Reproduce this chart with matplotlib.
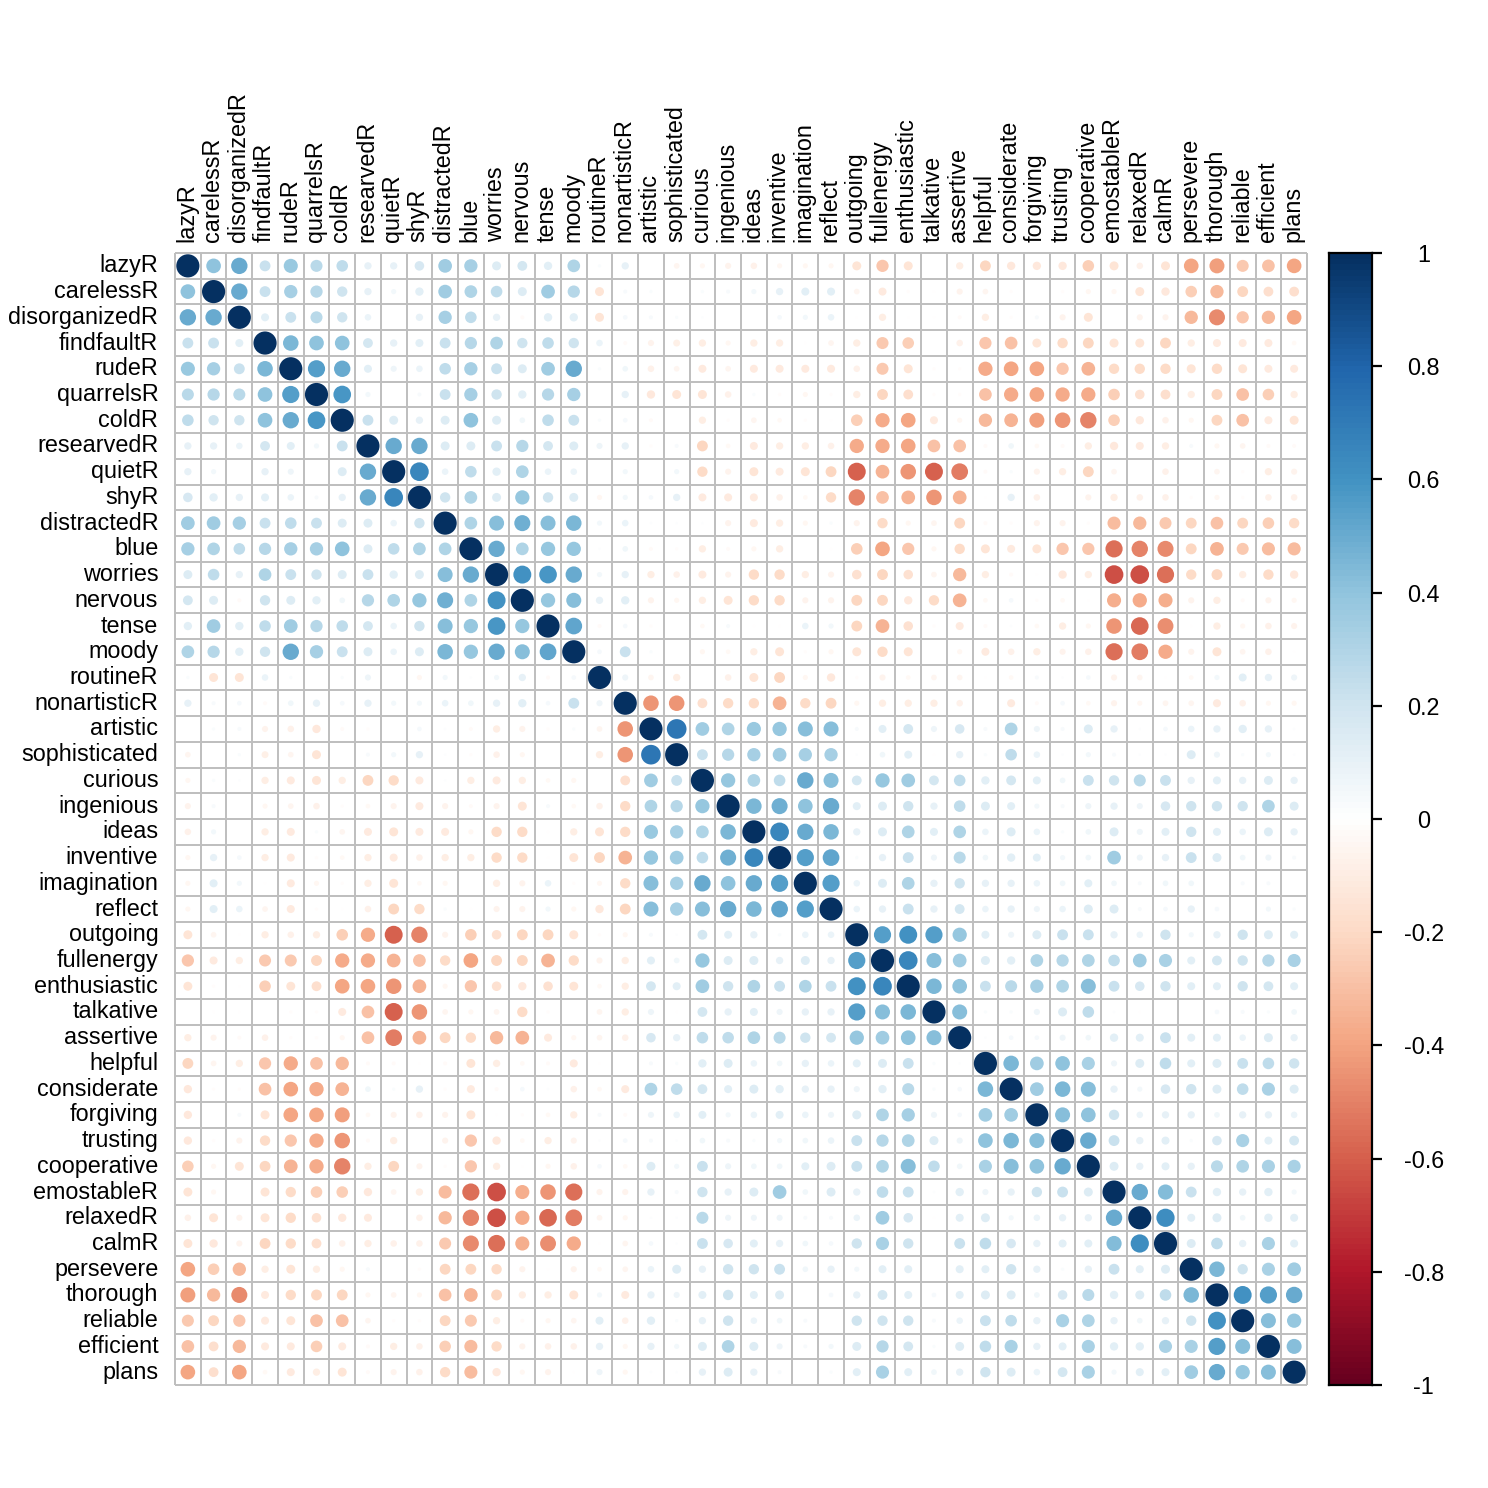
import numpy as np
import matplotlib
matplotlib.use("Agg")
import matplotlib.pyplot as plt
from matplotlib.colors import LinearSegmentedColormap, Normalize
from matplotlib.patches import Circle
from matplotlib.collections import PatchCollection

plt.rcParams['font.family'] = ['Liberation Sans', 'DejaVu Sans']

variables = ["lazyR", "carelessR", "disorganizedR", "findfaultR", "rudeR", "quarrelsR",
             "coldR", "researvedR", "quietR", "shyR", "distractedR", "blue", "worries",
             "nervous", "tense", "moody", "routineR", "nonartisticR", "artistic",
             "sophisticated", "curious", "ingenious", "ideas", "inventive", "imagination",
             "reflect", "outgoing", "fullenergy", "enthusiastic", "talkative", "assertive",
             "helpful", "considerate", "forgiving", "trusting", "cooperative", "emostableR",
             "relaxedR", "calmR", "persevere", "thorough", "reliable", "efficient", "plans"]

# lower triangle of the correlation matrix (row i holds correlations with columns 1..i-1)
corr_lower = [
    [],
    [0.40],
    [0.50, 0.50],
    [0.22, 0.22, 0.12],
    [0.37, 0.33, 0.22, 0.45],
    [0.27, 0.28, 0.27, 0.40, 0.55],
    [0.25, 0.20, 0.20, 0.40, 0.50, 0.58],
    [0.10, 0.10, 0.08, 0.18, 0.12, 0.05, 0.22],
    [0.10, 0.05, 0.00, 0.10, 0.07, 0.00, 0.15, 0.50],
    [0.17, 0.13, 0.10, 0.12, 0.08, 0.03, 0.10, 0.50, 0.65],
    [0.35, 0.35, 0.33, 0.22, 0.25, 0.22, 0.15, 0.15, 0.08, 0.20],
    [0.33, 0.30, 0.25, 0.28, 0.33, 0.33, 0.40, 0.15, 0.25, 0.30, 0.30],
    [0.15, 0.25, 0.10, 0.30, 0.22, 0.20, 0.15, 0.22, 0.13, 0.15, 0.42, 0.50],
    [0.18, 0.15, -0.03, 0.20, 0.15, 0.13, 0.06, 0.28, 0.30, 0.38, 0.48, 0.30, 0.60],
    [0.13, 0.35, 0.13, 0.25, 0.35, 0.28, 0.25, 0.18, 0.08, 0.20, 0.42, 0.38, 0.58, 0.38],
    [0.30, 0.28, 0.13, 0.20, 0.50, 0.33, 0.22, 0.15, 0.08, 0.15, 0.45, 0.38, 0.50, 0.42, 0.52],
    [0.02, -0.15, -0.15, 0.08, 0.02, 0.00, 0.02, 0.07, 0.00, -0.05, 0.05, 0.01, 0.05, 0.10, -0.03, 0.04],
    [0.10, 0.03, 0.04, -0.03, 0.06, 0.10, 0.04, 0.10, 0.05, 0.05, 0.08, 0.06, 0.10, 0.13, 0.04, 0.22, 0.07],
    [0.00, 0.02, 0.03, -0.07, -0.08, -0.13, -0.03, -0.02, 0.00, 0.04, 0.01, -0.03, -0.10, -0.07, -0.02, 0.02,
     -0.06, -0.45],
    [-0.06, 0.00, 0.02, -0.09, -0.06, -0.15, 0.00, 0.03, 0.05, 0.10, 0.01, -0.02, -0.08, -0.05, 0.00, 0.00,
     -0.10, -0.45, 0.72],
    [-0.05, 0.02, 0.01, -0.10, -0.12, -0.15, -0.10, -0.22, -0.20, -0.12, 0.01, -0.10, -0.12, -0.10, -0.04,
     -0.05, 0.00, -0.18, 0.35, 0.22],
    [-0.07, 0.03, 0.00, -0.05, -0.06, -0.08, -0.02, -0.04, -0.07, -0.12, -0.07, -0.03, -0.07, -0.15, 0.03,
     -0.04, -0.08, -0.20, 0.30, 0.28, 0.38],
    [-0.08, 0.05, 0.00, -0.10, -0.12, 0.02, -0.06, -0.12, -0.15, -0.12, -0.12, -0.05, -0.20, -0.20, -0.01,
     -0.10, -0.15, -0.20, 0.37, 0.33, 0.30, 0.45],
    [-0.05, 0.10, 0.04, -0.10, -0.12, -0.02, -0.04, -0.10, -0.12, -0.08, -0.10, -0.10, -0.20, -0.20, -0.01,
     -0.15, -0.22, -0.35, 0.38, 0.35, 0.25, 0.48, 0.65],
    [-0.05, 0.12, 0.05, -0.01, -0.12, -0.05, -0.02, -0.10, -0.15, -0.04, -0.05, 0.00, -0.10, -0.07, 0.08,
     -0.02, -0.05, -0.20, 0.42, 0.33, 0.50, 0.40, 0.50, 0.55],
    [-0.05, 0.12, 0.08, -0.06, -0.12, -0.02, -0.01, -0.08, -0.22, -0.20, 0.02, -0.01, -0.07, -0.07, 0.05,
     -0.05, -0.13, -0.22, 0.42, 0.33, 0.42, 0.50, 0.45, 0.52, 0.55],
    [-0.15, -0.06, -0.01, -0.10, -0.08, -0.10, -0.25, -0.38, -0.60, -0.50, -0.07, -0.25, -0.17, -0.22, -0.22,
     -0.15, -0.02, -0.05, 0.03, 0.01, 0.18, 0.12, 0.10, 0.02, 0.08, 0.08],
    [-0.28, -0.12, -0.10, -0.27, -0.27, -0.22, -0.38, -0.38, -0.35, -0.30, -0.20, -0.40, -0.22, -0.22, -0.35,
     -0.20, -0.07, -0.10, 0.12, 0.06, 0.38, 0.15, 0.15, 0.10, 0.15, 0.10, 0.55],
    [-0.15, -0.02, -0.01, -0.25, -0.15, -0.18, -0.40, -0.40, -0.45, -0.35, -0.05, -0.28, -0.17, -0.13, -0.17,
     -0.15, -0.04, -0.10, 0.18, 0.12, 0.35, 0.20, 0.30, 0.22, 0.30, 0.22, 0.60, 0.65],
    [0.00, -0.01, -0.01, 0.00, -0.02, -0.02, -0.12, -0.30, -0.60, -0.45, -0.06, -0.05, -0.06, -0.20, -0.02,
     0.00, -0.06, -0.10, 0.07, -0.01, 0.18, 0.10, 0.12, 0.07, 0.10, 0.10, 0.55, 0.42, 0.45],
    [-0.10, -0.07, -0.03, -0.08, -0.02, -0.02, -0.05, -0.30, -0.52, -0.35, -0.22, -0.20, -0.33, -0.35, -0.12,
     -0.05, -0.06, -0.08, 0.17, 0.10, 0.25, 0.25, 0.30, 0.27, 0.20, 0.18, 0.38, 0.35, 0.40, 0.42],
    [-0.22, -0.06, -0.10, -0.28, -0.38, -0.30, -0.33, -0.03, -0.03, -0.01, -0.03, -0.15, -0.10, -0.04, -0.03,
     -0.12, -0.01, 0.00, 0.03, 0.02, 0.13, 0.15, 0.08, 0.06, 0.10, 0.08, 0.12, 0.15, 0.22, 0.02, 0.01],
    [-0.13, -0.02, -0.02, -0.30, -0.40, -0.38, -0.35, 0.06, 0.02, 0.10, -0.02, -0.12, -0.03, 0.04, 0.01,
     -0.08, -0.04, -0.12, 0.30, 0.25, 0.18, 0.12, 0.15, 0.13, 0.10, 0.10, 0.07, 0.13, 0.27, 0.02, 0.04, 0.45],
    [-0.13, 0.00, 0.03, -0.15, -0.40, -0.40, -0.42, -0.04, -0.07, -0.08, -0.07, -0.15, -0.01, -0.02, -0.04,
     -0.10, 0.03, -0.03, 0.07, 0.08, 0.12, 0.05, 0.08, 0.12, 0.08, 0.07, 0.15, 0.30, 0.33, 0.07, 0.04, 0.35,
     0.35],
    [-0.13, -0.02, -0.07, -0.20, -0.28, -0.38, -0.45, -0.03, -0.10, 0.00, -0.07, -0.28, -0.13, -0.04, -0.10,
     -0.07, 0.01, 0.04, 0.03, 0.01, 0.06, 0.03, 0.02, 0.05, 0.06, 0.08, 0.22, 0.28, 0.30, 0.15, 0.07, 0.40,
     0.45, 0.42],
    [-0.25, -0.05, -0.15, -0.22, -0.35, -0.38, -0.50, -0.10, -0.22, -0.07, -0.02, -0.28, -0.10, -0.01, -0.05,
     -0.08, 0.04, -0.04, 0.15, 0.05, 0.22, 0.07, 0.06, 0.06, 0.12, 0.15, 0.22, 0.30, 0.42, 0.25, 0.06, 0.32,
     0.42, 0.40, 0.50],
    [-0.15, -0.05, 0.00, -0.15, -0.20, -0.25, -0.25, -0.13, -0.06, -0.10, -0.32, -0.55, -0.65, -0.37, -0.45,
     -0.55, -0.07, -0.07, 0.10, 0.03, 0.20, 0.10, 0.15, 0.35, 0.06, 0.15, 0.10, 0.25, 0.22, 0.01, 0.13, 0.07,
     0.10, 0.20, 0.22, 0.15],
    [-0.08, -0.15, -0.07, -0.15, -0.20, -0.17, -0.13, -0.12, 0.00, -0.08, -0.33, -0.50, -0.65, -0.38, -0.58,
     -0.52, -0.06, -0.05, 0.01, 0.01, 0.27, 0.07, 0.07, 0.07, 0.03, 0.03, 0.08, 0.35, 0.17, -0.01, 0.12, 0.15,
     0.05, 0.08, 0.10, 0.10, 0.50],
    [-0.15, -0.13, -0.07, -0.22, -0.20, -0.18, -0.08, -0.10, -0.08, -0.08, -0.27, -0.48, -0.55, -0.37, -0.47,
     -0.38, -0.01, -0.06, 0.04, 0.01, 0.22, 0.17, 0.12, 0.10, 0.06, 0.04, 0.20, 0.32, 0.20, 0.00, 0.22, 0.25,
     0.17, 0.10, 0.12, 0.12, 0.43, 0.62],
    [-0.40, -0.25, -0.33, -0.10, -0.15, -0.10, -0.05, 0.03, 0.00, -0.02, -0.22, -0.22, -0.20, -0.07, -0.01,
     -0.07, -0.04, -0.06, 0.08, 0.15, 0.10, 0.20, 0.20, 0.22, 0.06, 0.10, 0.05, 0.12, 0.12, 0.00, 0.12, 0.12,
     0.20, 0.10, 0.02, 0.10, 0.22, 0.12, 0.15],
    [-0.42, -0.33, -0.48, -0.12, -0.20, -0.22, -0.22, -0.05, -0.06, -0.05, -0.30, -0.35, -0.22, -0.10, -0.10,
     -0.15, 0.05, -0.12, 0.10, 0.07, 0.12, 0.20, 0.12, 0.15, 0.00, 0.04, 0.10, 0.18, 0.12, 0.04, 0.12, 0.15,
     0.15, 0.06, 0.17, 0.27, 0.13, 0.15, 0.25, 0.45],
    [-0.27, -0.22, -0.28, -0.12, -0.15, -0.30, -0.30, -0.06, -0.02, -0.02, -0.22, -0.27, -0.10, -0.03, -0.05,
     -0.06, 0.12, -0.08, 0.13, 0.02, 0.10, 0.20, 0.08, 0.06, 0.03, 0.00, 0.20, 0.20, 0.20, 0.03, 0.08, 0.22,
     0.25, 0.10, 0.32, 0.30, 0.10, 0.06, 0.10, 0.20, 0.60],
    [-0.30, -0.18, -0.33, -0.12, -0.12, -0.25, -0.12, -0.03, -0.10, -0.08, -0.25, -0.32, -0.20, -0.07, -0.08,
     -0.08, 0.10, -0.05, 0.10, 0.05, 0.15, 0.30, 0.15, 0.07, 0.03, 0.05, 0.15, 0.28, 0.18, 0.02, 0.15, 0.25,
     0.32, 0.10, 0.12, 0.32, 0.13, 0.13, 0.32, 0.32, 0.55, 0.42],
    [-0.40, -0.18, -0.40, -0.04, -0.12, -0.10, -0.15, -0.03, -0.07, -0.08, -0.20, -0.32, -0.13, -0.05, -0.07,
     -0.01, 0.07, -0.05, 0.01, 0.01, 0.10, 0.15, 0.10, 0.03, 0.00, 0.02, 0.12, 0.32, 0.12, 0.06, 0.10, 0.20,
     0.15, 0.08, 0.18, 0.32, 0.05, 0.12, 0.12, 0.35, 0.50, 0.38, 0.42],
]

cbar_ticks = [1, 0.8, 0.6, 0.4, 0.2, 0, -0.2, -0.4, -0.6, -0.8, -1]

# ---- build full symmetric matrix ----
n = len(variables)
M = np.eye(n)
for i, row in enumerate(corr_lower):
    assert len(row) == i, (i, len(row))
    for j, v in enumerate(row):
        M[i, j] = v
        M[j, i] = v

col2 = ["#67001F", "#B2182B", "#D6604D", "#F4A582", "#FDDBC7", "#FFFFFF",
        "#D1E5F0", "#92C5DE", "#4393C3", "#2166AC", "#053061"]
cmap = LinearSegmentedColormap.from_list("corrRdBu", col2, N=200)
norm = Normalize(-1, 1)

W = 1488
fig = plt.figure(figsize=(14.88, 14.88), dpi=100)
fig.patch.set_facecolor("white")

gx0, gx1, gy0, gy1 = 175, 1307, 253, 1385
ax = fig.add_axes([gx0 / W, 1 - gy1 / W, (gx1 - gx0) / W, (gy1 - gy0) / W])
ax.set_xlim(0, n)
ax.set_ylim(n, 0)
ax.axis("off")

# grid
ax.vlines(np.arange(n + 1), 0, n, colors="#BEBEBE", linewidth=1.4, clip_on=False, zorder=1)
ax.hlines(np.arange(n + 1), 0, n, colors="#BEBEBE", linewidth=1.4, clip_on=False, zorder=1)

patches = []
colors = []
for i in range(n):
    for j in range(n):
        r = M[i, j]
        if r == 0:
            continue
        patches.append(Circle((j + 0.5, i + 0.5), 0.45 * np.sqrt(abs(r))))
        colors.append(cmap(norm(r)))
pc = PatchCollection(patches, facecolors=colors, edgecolors="none", zorder=2)
ax.add_collection(pc)

fs = 16.8
for i, name in enumerate(variables):
    ax.text(-0.65, i + 0.5, name, ha="right", va="center", fontsize=fs, color="black")
    ax.text(i + 0.45, -0.42, name, ha="center", va="bottom", rotation=90, fontsize=fs, color="black")

# colorbar
cx0, cx1 = 1329, 1372
cax = fig.add_axes([cx0 / W, 1 - gy1 / W, (cx1 - cx0) / W, (gy1 - gy0) / W])
grad = np.linspace(-1, 1, 200).reshape(-1, 1)
cax.imshow(grad, cmap=cmap, norm=norm, origin="lower", aspect="auto",
           extent=[0, 1, -1, 1], interpolation="nearest")
cax.set_xlim(0, 1)
cax.set_ylim(-1, 1)
cax.set_xticks([])
cax.yaxis.tick_right()
cax.set_yticks(cbar_ticks)
cax.set_yticklabels([f"{t:g}" for t in cbar_ticks])
cax.tick_params(axis="y", length=7.2, width=1.6, pad=30, labelsize=fs, colors="black")
for lab in cax.get_yticklabels():
    lab.set_horizontalalignment("center")
for s in cax.spines.values():
    s.set_linewidth(1.6)
    s.set_color("black")

fig.savefig("out.png", dpi=100, facecolor="white")
